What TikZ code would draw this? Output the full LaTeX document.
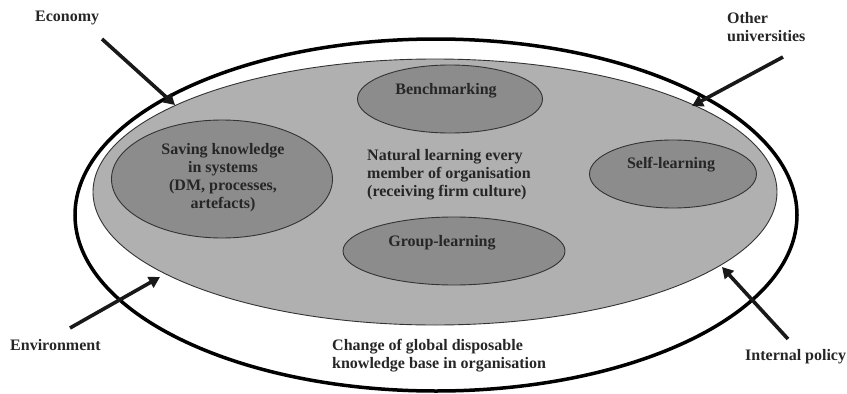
\documentclass[tikz,border=0pt]{standalone}
\usepackage{fontspec}
\setmainfont{Liberation Serif}
\usetikzlibrary{shapes.geometric,arrows.meta}
\tikzset{
  lbl/.style={font=\fontsize{16}{18}\selectfont\bfseries, inner sep=0pt, text=black!85},
  subell/.style={ellipse, draw=black!80, line width=0.9pt, fill=black!45, inner sep=0pt},
  bigarrow/.style={line width=3.6pt, -{Triangle[length=11pt,width=12pt]}, black!90}
}
\begin{document}
\begin{tikzpicture}[x=1pt,y=-1pt]
\useasboundingbox (0,0) rectangle (847,394);
% outer and field ellipses
\node[ellipse, draw=black, line width=3.5pt, minimum width=722pt, minimum height=352pt, inner sep=0pt] (outer) at (436,215) {};
\node[ellipse, draw=black!80, line width=0.9pt, fill=black!31, minimum width=684pt, minimum height=266pt, inner sep=0pt] (field) at (435,192) {};
% inner ellipses
\node[subell, minimum width=221pt, minimum height=118pt] (saving) at (222,179) {};
\node[subell, minimum width=185pt, minimum height=68pt] (bench) at (450,99) {};
\node[subell, minimum width=222pt, minimum height=68pt] (group) at (454,251) {};
\node[subell, minimum width=167pt, minimum height=68pt] (self) at (673,174) {};
% texts
\node[lbl, align=center] (savingtxt) at (223,178) {Saving knowledge\\in systems\\(DM, processes,\\artefacts)};
\node[lbl] (benchtxt) at (446,91) {Benchmarking};
\node[lbl] (grouptxt) at (442,243) {Group-learning};
\node[lbl] (selftxt) at (671,165) {Self-learning};
\node[lbl, align=left, anchor=west] (natural) at (367,175) {Natural learning every\\member of organisation\\(receiving firm culture)};
\node[lbl, align=left, anchor=west] (change) at (332,356) {Change of global disposable\\knowledge base in organisation};
% external labels
\node[lbl, anchor=west] (economy) at (35,18) {Economy};
\node[lbl, align=left, anchor=west] (other) at (727,27) {Other\\universities};
\node[lbl, anchor=west] (env) at (10,345) {Environment};
\node[lbl, anchor=west] (policy) at (745,357) {Internal policy};
% arrow coordinates
\coordinate (eS) at (102,39);
\coordinate (eT) at (175,105);
\coordinate (oS) at (783,57);
\coordinate (oT) at (692,106);
\coordinate (vS) at (70,328);
\coordinate (vT) at (160,277);
\coordinate (pS) at (788,339);
\coordinate (pT) at (722,267);
\draw[bigarrow] (eS) -- (eT);
\draw[bigarrow] (oS) -- (oT);
\draw[bigarrow] (vS) -- (vT);
\draw[bigarrow] (pS) -- (pT);
\end{tikzpicture}
\end{document}
